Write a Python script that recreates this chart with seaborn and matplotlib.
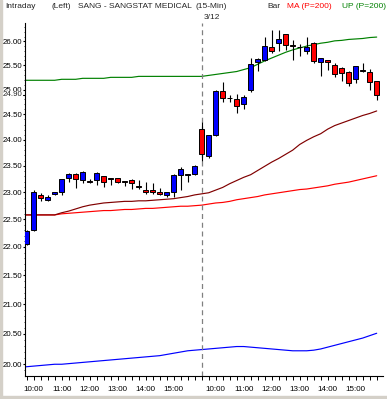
import numpy as np
import pandas as pd
import matplotlib
matplotlib.use("Agg")
import matplotlib.pyplot as plt
import seaborn as sns
from matplotlib.ticker import FixedLocator, FuncFormatter, NullFormatter

# 15-min bars, two sessions (bar 0 = 9:30 day 1, bar 26 = 9:30 day 2)
bar_idx = list(range(1, 52))
opens = [22.06, 22.31, 22.95, 22.86, 22.96, 23.01, 23.26, 23.35, 23.23, 23.21,
         23.23, 23.31, 23.26, 23.26, 23.21, 23.23, 23.11, 23.05, 23.05, 23.00,
         22.94, 23.00, 23.33, 23.33, 23.35,
         24.21, 23.69, 24.10, 24.98, 24.84, 24.80, 24.71, 24.99, 25.57, 25.61,
         25.89, 25.96, 26.15, 25.92, 25.88, 25.80, 25.97, 25.56, 25.60, 25.50,
         25.45, 25.35, 25.21, 25.40, 25.37, 25.17]
highs = [22.30, 23.05, 22.98, 22.95, 23.00, 23.25, 23.36, 23.36, 23.40, 23.24,
         23.38, 23.31, 23.27, 23.27, 23.22, 23.24, 23.23, 23.20, 23.18, 23.07,
         23.01, 23.34, 23.48, 23.34, 23.51,
         24.35, 24.10, 24.99, 25.15, 24.90, 24.91, 24.90, 25.64, 25.66, 26.10,
         26.24, 26.24, 26.16, 26.03, 25.94, 26.10, 25.99, 25.65, 25.61, 25.54,
         25.46, 25.39, 25.49, 25.55, 25.43, 25.18]
lows = [22.04, 22.29, 22.84, 22.83, 22.94, 22.95, 23.19, 23.07, 23.17, 23.17,
        23.13, 23.09, 23.13, 23.17, 23.11, 23.06, 23.06, 22.97, 22.97, 22.94,
        22.91, 22.91, 23.05, 23.20, 23.33,
        23.60, 23.64, 24.08, 24.74, 24.75, 24.53, 24.60, 24.95, 25.38, 25.58,
        25.75, 25.80, 25.82, 25.61, 25.69, 25.74, 25.54, 25.28, 25.41, 25.25,
        25.17, 25.08, 25.14, 25.35, 24.99, 24.79]
closes = [22.28, 23.00, 22.89, 22.92, 23.00, 23.24, 23.35, 23.24, 23.39, 23.20,
          23.37, 23.19, 23.25, 23.19, 23.20, 23.17, 23.10, 23.01, 23.01, 22.96,
          23.00, 23.33, 23.43, 23.33, 23.50,
          23.72, 24.09, 24.98, 24.83, 24.83, 24.67, 24.86, 25.52, 25.62, 25.90,
          25.80, 26.05, 25.93, 25.91, 25.89, 25.87, 25.59, 25.64, 25.56, 25.31,
          25.33, 25.14, 25.48, 25.39, 25.15, 24.90]

# study lines, one value per bar 0..51
line_idx = list(range(0, 52))
up_band = [25.19] * 6 + [25.21] * 3 + [25.23] * 4 + [25.25] * 4 + [25.27] * 9 + \
          [25.27, 25.29, 25.31, 25.33, 25.35, 25.37, 25.41, 25.45, 25.52, 25.59,
           25.65, 25.71, 25.77, 25.82, 25.86, 25.90, 25.93, 25.96, 25.98, 26.01,
           26.02, 26.04, 26.05, 26.06, 26.08, 26.09]
ma_line = [22.58] * 6 + [22.60, 22.61, 22.62, 22.63, 22.64, 22.65, 22.66, 22.66,
           22.67, 22.68, 22.68, 22.69, 22.70, 22.70, 22.71, 22.72, 22.73, 22.74,
           22.74, 22.75, 22.76, 22.78, 22.80, 22.81, 22.83, 22.86, 22.88, 22.90,
           22.92, 22.95, 22.97, 22.99, 23.01, 23.03, 23.05, 23.06, 23.08, 23.10,
           23.12, 23.15, 23.17, 23.19, 23.22, 23.25, 23.28, 23.31]
mid_line = [22.58] * 6 + [22.62, 22.65, 22.69, 22.73, 22.76, 22.78, 22.80, 22.81,
            22.82, 22.83, 22.83, 22.84, 22.84, 22.85, 22.86, 22.87, 22.88, 22.90,
            22.92, 22.95, 22.97, 22.99, 23.04, 23.09, 23.16, 23.22, 23.28, 23.33,
            23.41, 23.49, 23.57, 23.64, 23.72, 23.80, 23.91, 23.99, 24.06, 24.12,
            24.21, 24.28, 24.33, 24.38, 24.43, 24.48, 24.52, 24.57]
lo_line = [19.95, 19.96, 19.97, 19.98, 19.99, 20.00, 20.00, 20.01, 20.02, 20.03,
           20.04, 20.05, 20.06, 20.07, 20.08, 20.09, 20.10, 20.11, 20.12, 20.13,
           20.14, 20.16, 20.18, 20.20, 20.22, 20.23, 20.24, 20.25, 20.26, 20.27,
           20.28, 20.29, 20.29, 20.28, 20.27, 20.26, 20.25, 20.24, 20.23, 20.22,
           20.22, 20.22, 20.23, 20.25, 20.28, 20.31, 20.34, 20.37, 20.40, 20.43,
           20.47, 20.51]

hour_labels = ["10:00", "11:00", "12:00", "13:00", "14:00", "15:00"]
hour_idx = [2, 6, 10, 14, 18, 22, 28, 32, 36, 40, 44, 48]
y_ticks = [20.0, 20.5, 21.0, 21.5, 22.0, 22.5, 23.0, 23.5, 24.0, 24.5, 25.0, 25.5, 26.0]
last_price = closes[-1]

bars = pd.DataFrame({"i": bar_idx, "o": opens, "h": highs, "l": lows, "c": closes})
lines = pd.DataFrame({"i": line_idx, "up": up_band, "ma": ma_line,
                      "mid": mid_line, "lo": lo_line})

sns.set_style("white")
plt.rcParams["font.family"] = ["Liberation Sans", "DejaVu Sans"]

fig = plt.figure(figsize=(3.87, 3.99), dpi=100)

# window frame (behind everything)
fig.patches.append(plt.Rectangle((0, 0), 2 / 387, 1, transform=fig.transFigure,
                                 color="#d4d0c8", zorder=-5))
fig.patches.append(plt.Rectangle((0, 0), 1, 3 / 399, transform=fig.transFigure,
                                 color="#d4d0c8", zorder=-5))

ax = fig.add_axes([25 / 387, 23 / 399, 358 / 387, 353 / 399])
ax.set_zorder(2)
ax.patch.set_alpha(0)

# study lines
sns.lineplot(data=lines, x="i", y="up", color="#008000", lw=0.85, ax=ax)
sns.lineplot(data=lines, x="i", y="ma", color="#ff0000", lw=0.85, ax=ax)
sns.lineplot(data=lines, x="i", y="mid", color="#800000", lw=0.85, ax=ax)
sns.lineplot(data=lines, x="i", y="lo", color="#0000ff", lw=0.85, ax=ax)

# candles
ax.vlines(bars["i"], bars["l"], bars["h"], color="black", lw=0.8, zorder=3)
body_lo = np.minimum(bars["o"], bars["c"])
body_h = np.maximum(np.abs(bars["c"] - bars["o"]), 0.004)
cols = np.where(bars["c"] > bars["o"], "#0000ff", "#ff0000")
ax.bar(bars["i"], body_h, bottom=body_lo, width=0.68, color=cols,
       edgecolor="black", lw=0.7, zorder=4)

# session separator
ax.axvline(26, color="#808080", lw=0.9, ls=(0, (4, 3)), zorder=2)
ax.text(26.3, 1.005, "3/12", transform=ax.get_xaxis_transform(),
        fontsize=6, ha="left", va="bottom")

ax.set_yscale("log")
ax.set_ylim(19.81, 26.39)
ax.set_xlim(0.76, 51.9)
ax.yaxis.set_major_locator(FixedLocator(y_ticks))
ax.yaxis.set_major_formatter(FuncFormatter(lambda v, p: f"{v:.2f}"))
ax.yaxis.set_minor_locator(FixedLocator(np.arange(19.9, 26.4, 0.1)))
ax.yaxis.set_minor_formatter(NullFormatter())
ax.set_xticks(hour_idx)
ax.set_xticklabels(hour_labels * 2)
ax.set_xticks(range(1, 52), minor=True)
ax.tick_params(axis="y", which="major", direction="out", length=1.6, width=0.8,
               labelsize=5.7, pad=0.4, colors="black", left=True)
ax.tick_params(axis="y", which="minor", direction="out", length=0.9,
               width=0.6, left=True)
ax.tick_params(axis="x", which="both", direction="out", length=2.8, width=0.7,
               labelsize=5.8, pad=4.3, colors="black", bottom=True)
ax.set_xlabel("")
ax.set_ylabel("")
for s in ["top", "right"]:
    ax.spines[s].set_visible(False)
for s in ["left", "bottom"]:
    ax.spines[s].set_color("black")
    ax.spines[s].set_linewidth(0.8)

# last price tag over the axis
ax.text(-0.006, last_price, f"{last_price:.2f}", transform=ax.get_yaxis_transform(),
        fontsize=5.7, ha="right", va="center",
        bbox=dict(facecolor="white", edgecolor="none", pad=0.3))
ax.plot([-0.005, 0], [last_price, last_price], transform=ax.get_yaxis_transform(),
        color="black", lw=0.8, clip_on=False)

# header
fs = 6
fig.text(5 / 387, 1 - 6 / 399, "Intraday", fontsize=fs, va="center")
fig.text(52 / 387, 1 - 6 / 399, "(Left)", fontsize=fs, va="center")
fig.text(78 / 387, 1 - 6 / 399, "SANG - SANGSTAT MEDICAL", fontsize=fs, va="center")
fig.text(195 / 387, 1 - 6 / 399, "(15-Min)", fontsize=fs, va="center")
fig.text(267 / 387, 1 - 6 / 399, "Bar", fontsize=fs, va="center")
fig.text(287 / 387, 1 - 6 / 399, "MA (P=200)", fontsize=fs, va="center", color="#ff0000")
fig.text(342 / 387, 1 - 6 / 399, "UP (P=200)", fontsize=fs, va="center", color="#008000")

fig.savefig("out.png", dpi=100)
